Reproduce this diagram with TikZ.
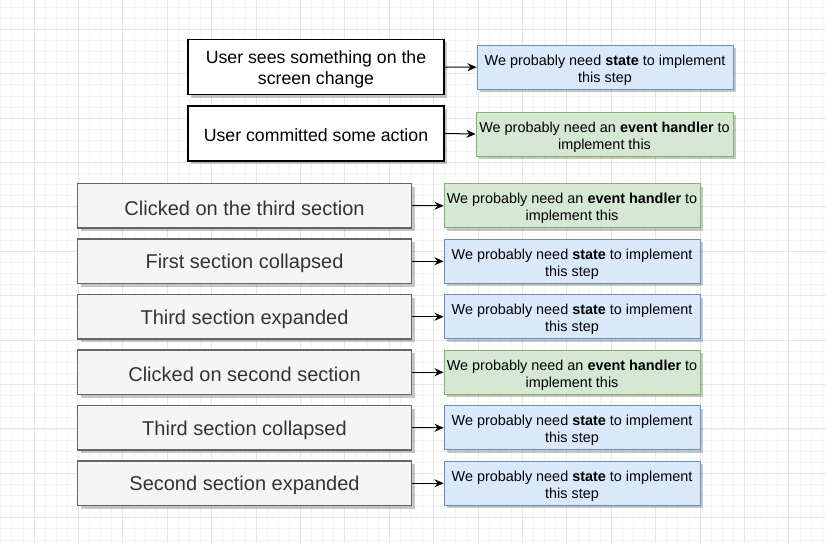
\documentclass[tikz,border=0pt]{standalone}
\usepackage{fontspec}
\setmainfont{Liberation Sans}
\usetikzlibrary{arrows.meta,shadows}
\definecolor{rowfill}{HTML}{F5F5F5}
\definecolor{rowdraw}{HTML}{666666}
\definecolor{rowtext}{HTML}{333333}
\definecolor{bluefill}{HTML}{DAE8FC}
\definecolor{bluedraw}{HTML}{6C8EBF}
\definecolor{greenfill}{HTML}{D5E8D4}
\definecolor{greendraw}{HTML}{82B366}
\definecolor{gridmajor}{HTML}{E6E6E6}
\definecolor{gridminor}{HTML}{F4F4F4}
\tikzset{
  sh/.style={drop shadow={shadow xshift=3pt,shadow yshift=-3pt,fill=black,opacity=0.22}},
  lower/.style={execute at begin node={\rule{0pt}{#1}}},
  topbox/.style={sh,draw=black,fill=white,line width=1.2pt,minimum width=256pt,minimum height=55pt,align=center,font=\fontsize{17.7}{21}\selectfont,inner sep=2pt},
  rowbox/.style={sh,draw=rowdraw,fill=rowfill,line width=1.2pt,minimum width=334pt,minimum height=44.5pt,align=center,text=rowtext,font=\fontsize{20}{24}\selectfont,inner sep=2pt,lower=18.8pt},
  bluebox/.style={sh,draw=bluedraw,fill=bluefill,line width=1pt,minimum width=256pt,minimum height=44pt,align=center,font=\fontsize{14.4}{17}\selectfont,inner sep=1pt},
  greenbox/.style={sh,draw=greendraw,fill=greenfill,line width=1pt,minimum width=256pt,minimum height=44pt,align=center,font=\fontsize{14.4}{17}\selectfont,inner sep=1pt},
  conn/.style={draw=black,line width=1pt,-{Stealth[length=9pt,width=8pt]}},
  minorline/.style={draw=gridminor,line width=0.8pt},
  majorline/.style={draw=gridmajor,line width=1pt}
}
\newcommand{\stateText}{\rule{0pt}{16.3pt}We probably need \textbf{state} to implement\\this step}
\newcommand{\eventText}{\rule{0pt}{16.3pt}We probably need an \textbf{event handler} to\\implement this}
\begin{document}
\begin{tikzpicture}[x=1pt,y=-1pt]
\useasboundingbox (0,0) rectangle (826,543);
\fill[white] (0,0) rectangle (826,543);
% grid
\foreach \i in {0,...,76} {\draw[minorline] ({-10.4+11.1*\i},0) -- ({-10.4+11.1*\i},543);}
\foreach \i in {0,...,51} {\draw[minorline] (0,{-15.1+11.1*\i}) -- (826,{-15.1+11.1*\i});}
\foreach \i in {0,...,19} {\draw[majorline] ({-10.4+44.4*\i},0) -- ({-10.4+44.4*\i},543);}
\foreach \i in {0,...,13} {\draw[majorline] (0,{-15.1+44.4*\i}) -- (826,{-15.1+44.4*\i});}

% top part
\node[topbox] (u1) at (316,67) {\rule{0pt}{17pt}User sees something on the\\screen change};
\node[topbox,lower=17pt] (u2) at (316,133.5) {User committed some action};
\node[bluebox] (s1) at (605,67.25) {\stateText};
\node[greenbox,minimum width=257pt] (e1) at (604.5,134) {\eventText};
\draw[conn] (u1.east) -- (s1.west);
\draw[conn] (u2.east) -- (e1.west);

% rows
\node[rowbox] (r1) at (244.5,205.75) {Clicked on the third section};
\node[rowbox] (r2) at (244.5,261.25) {First section collapsed};
\node[rowbox] (r3) at (244.5,316.75) {Third section expanded};
\node[rowbox] (r4) at (244.5,372.25) {Clicked on second section};
\node[rowbox] (r5) at (244.5,427.75) {Third section collapsed};
\node[rowbox] (r6) at (244.5,483.25) {Second section expanded};

\node[greenbox] (a1) at (572,205.75) {\eventText};
\node[bluebox] (a2) at (572,261.25) {\stateText};
\node[bluebox] (a3) at (572,316.75) {\stateText};
\node[greenbox] (a4) at (572,372.25) {\eventText};
\node[bluebox] (a5) at (572,427.75) {\stateText};
\node[bluebox] (a6) at (572,483.25) {\stateText};

\foreach \k in {1,...,6} {\draw[conn] (r\k.east) -- (a\k.west);}
\end{tikzpicture}
\end{document}
